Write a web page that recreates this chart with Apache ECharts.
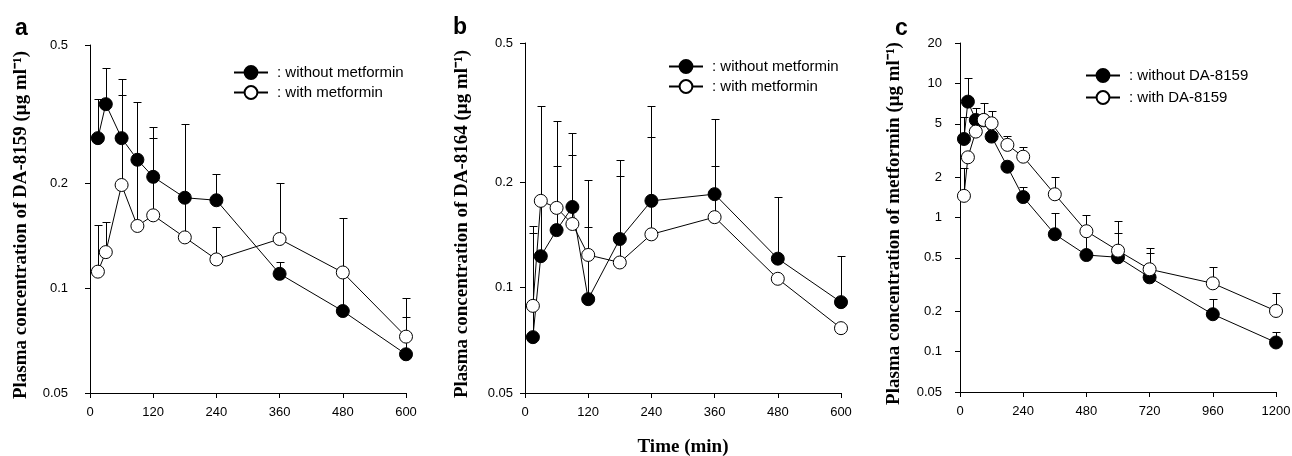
<!DOCTYPE html>
<html><head><meta charset="utf-8">
<script src="https://cdn.jsdelivr.net/npm/echarts@6/dist/echarts.min.js"></script>
<style>html,body{margin:0;padding:0;background:#fff}#c{width:1292px;height:456px}</style>
</head><body><div id="c"></div>
<script>
// ---- data ----
const timesAB = [15, 30, 60, 90, 120, 180, 240, 360, 480, 600];
const timesC = [15, 30, 60, 90, 120, 180, 240, 360, 480, 600, 720, 960, 1200];

// panel a: DA-8159
const aWithout = [0.27, 0.338, 0.27, 0.234, 0.209, 0.182, 0.179, 0.110, 0.086, 0.0646];
const aWith = [0.1116, 0.127, 0.198, 0.151, 0.162, 0.140, 0.121, 0.1385, 0.111, 0.0726];
const aWithoutTop = [0.35, 0.43, 0.40, 0.343, 0.291, 0.296, 0.213, 0.119, 0.159, 0.0825];
const aWithTop = [0.152, 0.155, 0.36, 0.234, 0.27, 0.185, 0.15, 0.201, null, 0.094];

// panel b: DA-8164
const bWithout = [0.0722, 0.123, 0.146, 0.170, 0.0927, 0.1377, 0.177, 0.185, 0.121, 0.0909];
const bWith = [0.0887, 0.177, 0.169, 0.152, 0.124, 0.118, 0.142, 0.159, 0.106, 0.0766];
const bWithoutTop = [0.150, 0.331, 0.299, 0.277, 0.2034, 0.231, 0.331, 0.303, 0.182, 0.123];
const bWithTop = [0.143, null, 0.222, 0.239, 0.1486, 0.208, 0.270, 0.223, null, null];

// panel c: metformin
const cWithout = [3.85, 7.31, 5.34, 5.3, 4.01, 2.39, 1.42, 0.75, 0.525, 0.505, 0.358, 0.19, 0.117];
const cWith = [1.45, 2.81, 4.37, 5.34, 5.04, 3.48, 2.84, 1.49, 0.79, 0.566, 0.411, 0.323, 0.201];
const cWithoutTop = [5.59, 10.9, null, null, null, null, 1.70, 1.08, 0.75, 0.763, 0.547, 0.247, 0.139];
const cWithTop = [2.35, null, 6.52, 7.18, 6.26, 4.05, 3.34, 2.02, 1.04, 0.94, 0.596, 0.43, 0.272];

const ticksAB = [0.05, 0.1, 0.2, 0.5];
const ticksC = [0.05, 0.1, 0.2, 0.5, 1, 2, 5, 10, 20];

const labelA = 'Plasma concentration of DA-8159 (\u03bcg ml\u207b\u00b9)';
const labelB = 'Plasma concentration of DA-8164 (\u03bcg ml\u207b\u00b9)';
const labelC = 'Plasma concentration of metformin (\u03bcg ml\u207b\u00b9)';
const timeLabel = 'Time (min)';
const legA = ['without metformin', 'with metformin'];
const legC = ['without DA-8159', 'with DA-8159'];

// ---- build ----
const SANS = '"Liberation Sans", Arial, sans-serif';
const SERIF = '"Liberation Serif", "Times New Roman", serif';
const zip = (t, v) => t.map((x, i) => [x, v[i]]);
const zipErr = (t, v, top) => t.map((x, i) => top[i] == null ? null : [x, top[i], v[i]]).filter(d => d);

function errSeries(idx, t, v, top) {
  return {
    type: 'custom', xAxisIndex: idx, yAxisIndex: idx, z: 1, silent: true,
    data: zipErr(t, v, top),
    encode: { x: 0, y: [1, 2] },
    renderItem: function (params, api) {
      const x = api.value(0), tp = api.value(1), val = api.value(2);
      const p0 = api.coord([x, val]), p1 = api.coord([x, tp]);
      const cx = Math.round(p0[0]) + 0.5, ty = Math.round(p1[1]) + 0.5;
      return { type: 'group', children: [
        { type: 'line', shape: { x1: cx, y1: p0[1], x2: cx, y2: ty }, style: { stroke: '#000', lineWidth: 1 } },
        { type: 'line', shape: { x1: cx - 4, y1: ty, x2: cx + 4, y2: ty }, style: { stroke: '#000', lineWidth: 1 } }
      ]};
    }
  };
}
function lineSeries(idx, name, t, v, filled) {
  return {
    type: 'line', name: name, xAxisIndex: idx, yAxisIndex: idx, z: filled ? 3 : 4,
    data: zip(t, v), symbol: 'circle', symbolSize: 13, showSymbol: true,
    lineStyle: { color: '#000', width: 1 },
    itemStyle: { color: filled ? '#000' : '#fff', borderColor: '#000', borderWidth: 1 },
    emphasis: { disabled: true }
  };
}
function xAxis(idx, max, interval, name) {
  return {
    type: 'value', gridIndex: idx, min: 0, max: max, interval: interval,
    splitLine: { show: false },
    axisLine: { show: true, onZero: false, lineStyle: { color: '#000', width: 1 } },
    axisTick: { show: true, length: 5, lineStyle: { color: '#000' } },
    axisLabel: { color: '#000', fontSize: 13, fontFamily: SANS, margin: 13, formatter: v => String(v) },
    name: name || '', nameLocation: 'middle', nameGap: 45,
    nameTextStyle: { fontFamily: SERIF, fontWeight: 'bold', fontSize: 19, color: '#000' }
  };
}
function yAxis(idx, min, max, ticks, name, offset, margin, gap) {
  return {
    type: 'log', logBase: 10, gridIndex: idx, min: min, max: max, offset: offset,
    splitLine: { show: false },
    axisLine: { show: true, lineStyle: { color: '#000', width: 1 } },
    axisTick: { show: true, length: 5, lineStyle: { color: '#000' }, customValues: ticks },
    axisLabel: { color: '#000', fontSize: 13, fontFamily: SANS, margin: margin, customValues: ticks,
      formatter: v => String(+(+v).toPrecision(3)) },
    minorTick: { show: false },
    name: name, nameLocation: 'middle', nameRotate: 90, nameGap: gap,
    nameTextStyle: { fontFamily: SERIF, fontWeight: 'bold', fontSize: 19, color: '#000', padding: [0, 12, 0, 0] }
  };
}
function legend(left, top, gap, names) {
  return {
    left: left, top: top, orient: 'vertical', itemWidth: 34, itemHeight: 16, itemGap: gap,
    padding: 0, selectedMode: false, data: names,
    formatter: n => ': ' + n.split('|')[1],
    textStyle: { color: '#000', fontSize: 15, fontFamily: SANS, padding: [0, 0, 0, 4] }
  };
}

const option = {
  animation: false,
  backgroundColor: '#fff',
  grid: [
    { left: 90, top: 45, width: 316, height: 348, outerBoundsMode: 'none' },
    { left: 525, top: 43, width: 316, height: 350, outerBoundsMode: 'none' },
    { left: 960, top: 43, width: 316, height: 349, outerBoundsMode: 'none' }
  ],
  xAxis: [
    xAxis(0, 600, 120),
    xAxis(1, 600, 120, timeLabel),
    xAxis(2, 1200, 240)
  ],
  yAxis: [
    yAxis(0, 0.05, 0.5, ticksAB, labelA, 12, 10, 47),
    yAxis(1, 0.05, 0.5, ticksAB, labelB, 5, 7, 48),
    yAxis(2, 0.05, 20, ticksC, labelC, 13, 5, 43)
  ],
  legend: [
    legend(233, 65, 5, ['a|' + legA[0], 'a|' + legA[1]]),
    legend(668, 59, 5, ['b|' + legA[0], 'b|' + legA[1]]),
    legend(1085, 68, 7, ['c|' + legC[0], 'c|' + legC[1]])
  ],
  graphic: [
    { type: 'text', left: 15, top: 17, style: { text: 'a', font: 'bold 23px ' + SANS, fill: '#000' } },
    { type: 'text', left: 453, top: 16, style: { text: 'b', font: 'bold 23px ' + SANS, fill: '#000' } },
    { type: 'text', left: 895, top: 17, style: { text: 'c', font: 'bold 23px ' + SANS, fill: '#000' } }
  ],
  series: [
    errSeries(0, timesAB, aWithout, aWithoutTop),
    errSeries(0, timesAB, aWith, aWithTop),
    lineSeries(0, 'a|' + legA[0], timesAB, aWithout, true),
    lineSeries(0, 'a|' + legA[1], timesAB, aWith, false),
    errSeries(1, timesAB, bWithout, bWithoutTop),
    errSeries(1, timesAB, bWith, bWithTop),
    lineSeries(1, 'b|' + legA[0], timesAB, bWithout, true),
    lineSeries(1, 'b|' + legA[1], timesAB, bWith, false),
    errSeries(2, timesC, cWithout, cWithoutTop),
    errSeries(2, timesC, cWith, cWithTop),
    lineSeries(2, 'c|' + legC[0], timesC, cWithout, true),
    lineSeries(2, 'c|' + legC[1], timesC, cWith, false)
  ]
};
const chart = echarts.init(document.getElementById('c'), null, { renderer: 'canvas' });
chart.setOption(option);
</script></body></html>
